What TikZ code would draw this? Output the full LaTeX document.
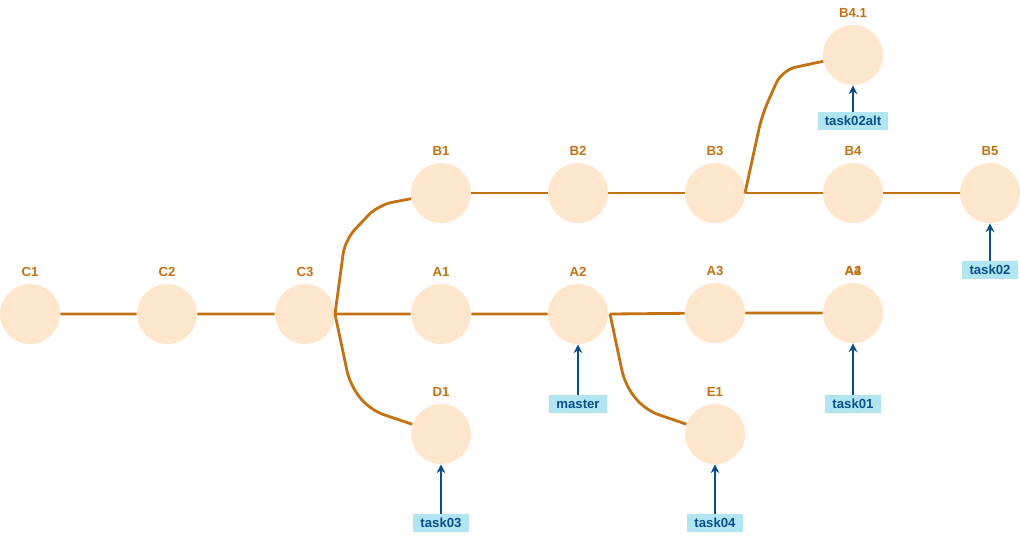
\documentclass[tikz,border=0pt]{standalone}
\usepackage{fontspec}
\setmainfont{Liberation Sans}
\usetikzlibrary{arrows.meta}
\begin{document}
\begin{tikzpicture}[x=0.02cm,y=-0.02cm,
  c/.style={circle,fill=cfill,draw=none,minimum size=1.2cm,inner sep=0},
  lab/.style={text=lorange,font=\fontsize{7.5}{9}\selectfont\bfseries},
  e/.style={draw=lorange,line width=1.6pt,rounded corners=8pt},
  tag/.style={fill=tagfill,text=tagtext,font=\fontsize{7.5}{9}\selectfont\bfseries,minimum height=0.36cm,inner xsep=4pt,inner ysep=0},
  ar/.style={draw=tagtext,line width=1.2pt,-{Stealth[length=5pt,width=5pt]}}]
\definecolor{cfill}{HTML}{FFE6CC}
\definecolor{lorange}{HTML}{C27213}
\definecolor{tagfill}{HTML}{B1E5F2}
\definecolor{tagtext}{HTML}{0B4F8A}
\useasboundingbox (0,0) rectangle (1020,535);
\foreach \n/\t/\x/\y in {C1/C1/30/314,C2/C2/167/314,C3/C3/305/314,A1/A1/441/314,A2/A2/578/314,A3/A3/715/313,A4/A4/853/313,B1/B1/441/193,B2/B2/578/193,B3/B3/715/193,B4/B4/853/193,B5/B5/990/193,B41/B4.1/853/55,D1/D1/441/434,E1/E1/715/434}{
  \node[c] (\n) at (\x,\y) {};
  \node[lab] (l\n) at (\x,\y-42) {\t};
}
\node[lab] (lA4b) at (853,271) {A2};
\coordinate (j1) at (335,314);
\coordinate (j2) at (610,314);
\coordinate (j3) at (745,193);
\draw[e] (C1) -- (C2) (C2) -- (C3) (j1) -- (A1) (A1) -- (A2) (j2) -- (A3) (A3) -- (A4);
\draw[e] (B1) -- (B2) (B2) -- (B3) (j3) -- (B4) (B4) -- (B5);
\draw[e] (j1) -- (345,240) -- (378,205) -- (B1);
\draw[e] (j1) -- (350,385) -- (370,410) -- (D1);
\draw[e] (j2) -- (625,385) -- (645,410) -- (E1);
\draw[e] (j3) -- (762,115) -- (782,70) -- (B41);
\foreach \n/\t/\x/\y/\tg in {tm/master/578/404/A2,t1/task01/853/404/A4,t3/task03/441/523/D1,t4/task04/715/523/E1,t2/task02/990/270/B5,ta/task02alt/853/121/B41}{
  \node[tag] (\n) at (\x,\y) {\t};
  \draw[ar] (\n) -- (\tg);
}
\end{tikzpicture}
\end{document}
